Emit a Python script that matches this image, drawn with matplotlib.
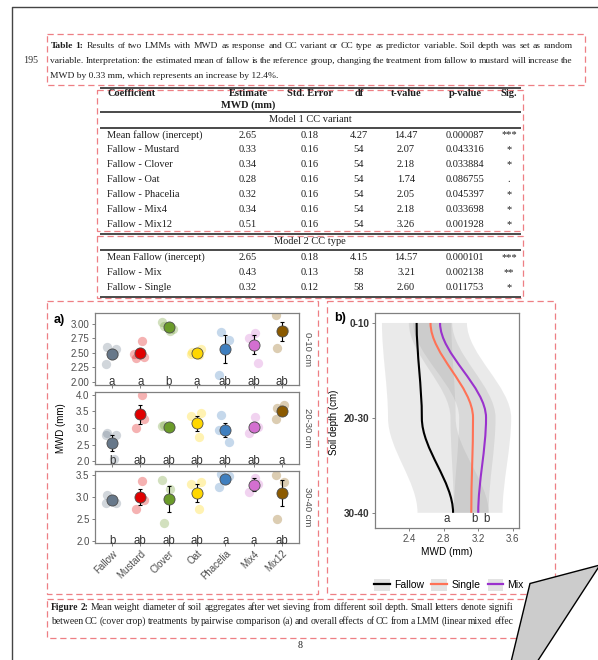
import numpy as np
import matplotlib
matplotlib.use('Agg')
import matplotlib.pyplot as plt
from matplotlib.patches import Rectangle, Polygon, PathPatch, Patch
from matplotlib.path import Path
from matplotlib.lines import Line2D
from matplotlib.legend_handler import HandlerTuple

W, H = 598, 660
SERIF = 'Liberation Serif'
SANS = 'Liberation Sans'
TXT = '#1e1e1e'
DASH_RED = '#ee7f84'

# ---------------- Table 1 ----------------
caption_t1 = [
    'Table 1: Results of two LMMs with MWD as response and CC variant or CC type as predictor variable. Soil depth was set as random',
    'variable. Interpretation: the estimated mean of fallow is the reference group, changing the treatment from fallow to mustard will increase the',
    'MWD by 0.33 mm, which represents an increase by 12.4%.',
]
header = ['Coefficient', 'Estimate', 'Std. Error', 'df', 't-value', 'p-value', 'Sig.']

m1_coef = ['Mean fallow (inercept)', 'Fallow - Mustard', 'Fallow - Clover', 'Fallow - Oat',
           'Fallow - Phacelia', 'Fallow - Mix4', 'Fallow - Mix12']
m1_est = ['2.65', '0.33', '0.34', '0.28', '0.32', '0.34', '0.51']
m1_se = ['0.18', '0.16', '0.16', '0.16', '0.16', '0.16', '0.16']
m1_df = ['4.27', '54', '54', '54', '54', '54', '54']
m1_t = ['14.47', '2.07', '2.18', '1.74', '2.05', '2.18', '3.26']
m1_p = ['0.000087', '0.043316', '0.033884', '0.086755', '0.045397', '0.033698', '0.001928']
m1_sig = ['***', '*', '*', '.', '*', '*', '*']

m2_coef = ['Mean Fallow (inercept)', 'Fallow - Mix', 'Fallow - Single']
m2_est = ['2.65', '0.43', '0.32']
m2_se = ['0.18', '0.13', '0.12']
m2_df = ['4.15', '58', '58']
m2_t = ['14.57', '3.21', '2.60']
m2_p = ['0.000101', '0.002138', '0.011753']
m2_sig = ['***', '**', '*']

# ---------------- Figure 2a: MWD per CC variant ----------------
treatments = ['Fallow', 'Mustard', 'Clover', 'Oat', 'Phacelia', 'Mix4', 'Mix12']
treat_colors = ['#67788a', '#e00000', '#6b9b2a', '#ffd700', '#3f7fbf', '#d36fd0', '#8b5a00']
depth_labels = ['0-10 cm', '20-30 cm', '30-40 cm']

mean_0_10 = [2.48, 2.50, 2.95, 2.50, 2.56, 2.64, 2.87]
se_0_10 = [0.08, 0.08, 0.04, 0.03, 0.24, 0.16, 0.17]
reps_0_10 = [[2.60, 2.56, 2.30, 2.47], [2.70, 2.41, 2.42, 2.47], [3.04, 2.87, 2.97, 2.92],
             [2.56, 2.48, 2.46, 2.52], [2.86, 2.72, 2.12], [2.85, 2.75, 2.33],
             [3.16, 2.90, 2.58]]
letters_0_10 = ['a', 'a', 'b', 'a', 'ab', 'ab', 'ab']

mean_20_30 = [2.54, 3.41, 3.04, 3.14, 2.94, 3.04, 3.52]
se_20_30 = [0.24, 0.30, 0.03, 0.23, 0.22, 0.15, 0.06]
reps_20_30 = [[2.86, 2.80, 2.78, 2.05], [4.00, 2.99, 3.26], [3.06, 3.02, 3.08],
              [3.44, 3.36, 2.74], [3.39, 2.59, 2.95], [3.34, 2.84, 3.02],
              [3.26, 3.70, 3.60]]
letters_20_30 = ['b', 'ab', 'ab', 'ab', 'ab', 'ab', 'a']

mean_30_40 = [2.92, 3.00, 2.95, 3.09, 3.40, 3.28, 3.09]
se_30_40 = [0.04, 0.18, 0.30, 0.20, 0.06, 0.14, 0.30]
reps_30_40 = [[3.05, 2.87, 2.86], [3.36, 2.72, 2.93], [3.38, 3.17, 2.40],
              [3.33, 3.30, 2.72], [3.52, 3.47, 3.22], [3.44, 3.12, 3.30],
              [3.51, 3.33, 2.49]]
letters_30_40 = ['b', 'ab', 'ab', 'ab', 'a', 'a', 'ab']

# ---------------- Figure 2b: MWD per CC type over depth ----------------
depth_b = ['0-10', '20-30', '30-40']
cc_types = ['Fallow', 'Single', 'Mix']
cc_colors = ['#000000', '#ff7256', '#9a32cd']
fallow_mwd = [2.49, 2.55, 2.91]
fallow_lo = [2.09, 2.16, 2.50]
fallow_hi = [2.89, 2.94, 3.32]
single_mwd = [2.65, 3.14, 3.12]
single_lo = [2.40, 2.88, 2.92]
single_hi = [2.90, 3.40, 3.32]
mix_mwd = [2.76, 3.29, 3.20]
mix_lo = [2.45, 2.98, 2.92]
mix_hi = [3.07, 3.58, 3.48]
type_letters = ['a', 'b', 'b']

caption_f2 = [
    'Figure 2: Mean weight diameter of soil aggregates after wet sieving from different soil depth. Small letters denote signifi',
    'between CC (cover crop) treatments by pairwise comparison (a) and overall effects of CC from a LMM (linear mixed effec',
]


fig = plt.figure(figsize=(W / 100, H / 100), dpi=100)
fig.patch.set_facecolor('white')

page = fig.add_axes([0, 0, 1, 1])
page.set_xlim(0, W)
page.set_ylim(H, 0)
page.axis('off')


def px_axes(l, t, r, b):
    return fig.add_axes([l / W, 1 - b / H, (r - l) / W, (b - t) / H])


def dashed_box(l, t, r, b):
    page.add_patch(Rectangle((l, t), r - l, b - t, fill=False, edgecolor=DASH_RED,
                             lw=0.9, linestyle=(0, (5, 3)), zorder=3))


def justify(line, x0, x1, y, size, n_bold=0):
    # spread the words of one caption line over the full width (y is the baseline)
    r = fig.canvas.get_renderer()
    words = line.split(' ')
    ts = []
    for k, w in enumerate(words):
        ts.append(page.text(x0, y, w, fontsize=size, family=SERIF, va='baseline', ha='left',
                            color=TXT, fontweight='bold' if k < n_bold else 'normal'))
    widths = [t.get_window_extent(r).width for t in ts]
    gap = (x1 - x0 - sum(widths)) / (len(ts) - 1)
    x = x0
    for t, w in zip(ts, widths):
        t.set_x(x)
        x += w + gap


def plain_line(line, x0, y, size):
    page.text(x0, y, line, fontsize=size, family=SERIF, va='baseline', ha='left', color=TXT)


# page outline
page.plot([11.5, 11.5, W + 5], [H + 5, 7, 7], color='#444444', lw=1.0, zorder=2)

# ---- Table 1 caption ----
page.text(23, 63, '195', fontsize=7.2, family=SERIF, va='baseline', ha='left', color='#333333')
dashed_box(46.5, 33.5, 585, 84.5)
justify(caption_t1[0], 50.5, 573, 48, 6.8, n_bold=2)
justify(caption_t1[1], 50.5, 573, 63, 6.8)
plain_line(caption_t1[2], 50.5, 78, 6.8)

# ---- Table 1 body ----
col_x = [107, 248, 310, 359, 406, 465, 509]
rule_kw = dict(color='#4a4a4a', lw=1.4, solid_capstyle='butt', zorder=4)
for yr in [87.5, 111.5, 127.5, 233.5, 250, 296.5]:
    page.plot([100, 521], [yr, yr], **rule_kw)
dashed_box(97, 90, 523, 231)
dashed_box(97, 236, 523, 297.5)

cell_kw = dict(fontsize=7.5, family=SERIF, va='center', color=TXT)
for k, h in enumerate(header):
    page.text(col_x[k], 94, h, ha='left' if k == 0 else 'center', fontweight='bold', **cell_kw)
page.text(col_x[1], 105.5, 'MWD (mm)', ha='center', fontweight='bold', **cell_kw)
page.text(310, 119.5, 'Model 1 CC variant', ha='center', **cell_kw)
page.text(310, 242, 'Model 2 CC type', ha='center', **cell_kw)


def table_rows(cols, y0):
    for i, row in enumerate(zip(*cols)):
        y = y0 + 14.9 * i
        for k, v in enumerate(row):
            page.text(col_x[k], y, v, ha='left' if k == 0 else 'center', **cell_kw)


table_rows([m1_coef, m1_est, m1_se, m1_df, m1_t, m1_p, m1_sig], 135)
table_rows([m2_coef, m2_est, m2_se, m2_df, m2_t, m2_p, m2_sig], 257.5)

# ---- Figure 2 a) ----
dashed_box(47, 301, 318, 594)
page.text(54, 320, 'a)', fontsize=9, fontweight='bold', family=SANS, va='center', ha='left')
page.text(61, 428, 'MWD (mm)', fontsize=7, family=SANS, rotation=90, va='center', ha='center')

facet_px = [(313, 385), (392, 464), (471, 543)]
facet_mean = [mean_0_10, mean_20_30, mean_30_40]
facet_se = [se_0_10, se_20_30, se_30_40]
facet_reps = [reps_0_10, reps_20_30, reps_30_40]
facet_letters = [letters_0_10, letters_20_30, letters_30_40]
facet_ylim = [(1.94, 3.19), (1.91, 4.09), (1.95, 3.59)]
facet_ticks = [[2.00, 2.25, 2.50, 2.75, 3.00], [2.0, 2.5, 3.0, 3.5, 4.0], [2.0, 2.5, 3.0, 3.5]]
facet_fmt = ['%.2f', '%.1f', '%.1f']
jitter = np.array([-0.16, 0.14, -0.22, 0.06])

for f in range(3):
    ax = px_axes(95, facet_px[f][0], 299, facet_px[f][1])
    for i in range(len(treatments)):
        x = i + 1
        reps = facet_reps[f][i]
        offs = np.roll(jitter, i)[:len(reps)]
        ax.scatter(x + offs, reps, s=45, color=treat_colors[i], alpha=0.3, lw=0, zorder=2)
        ax.errorbar(x, facet_mean[f][i], yerr=facet_se[f][i], color='black', lw=0.8,
                    capsize=1.3, capthick=0.8, zorder=3)
        ax.plot(x, facet_mean[f][i], 'o', ms=8, mfc=treat_colors[i], mec='#4d4d4d',
                mew=0.6, zorder=4)
        ax.text(x, 2.0, facet_letters[f][i], ha='center', va='center', fontsize=8.3,
                color='#333333', family=SANS, zorder=5)
    ax.set_xlim(0.4, 7.6)
    ax.set_ylim(*facet_ylim[f])
    ax.set_yticks(facet_ticks[f])
    ax.set_yticklabels([facet_fmt[f] % v for v in facet_ticks[f]], family=SANS)
    ax.set_xticks(range(1, len(treatments) + 1))
    if f < 2:
        ax.set_xticklabels([])
        ax.tick_params(axis='x', length=0)
    else:
        ax.set_xticklabels(treatments, rotation=45, ha='right', rotation_mode='anchor',
                           family=SANS)
    for s in ax.spines.values():
        s.set_color('#808080')
        s.set_linewidth(0.9)
    ax.tick_params(colors='#808080', labelcolor='#4d4d4d', labelsize=7, length=2.5,
                   width=0.7, pad=1.5)
    ax.text(1.04, 0.5, depth_labels[f], transform=ax.transAxes, rotation=-90, ha='center',
            va='center', fontsize=6.8, color='#4d4d4d', family=SANS)

# ---- Figure 2 b) ----
dashed_box(327, 301, 555, 594)
page.text(334, 318, 'b)', fontsize=9, fontweight='bold', family=SANS, va='center', ha='left')
page.text(334, 422, 'Soil depth (cm)', fontsize=7, family=SANS, rotation=90, va='center',
          ha='center')

axb = px_axes(375, 313, 519, 528)
depth_pos = np.arange(1, len(depth_b) + 1)


def curve_path(xs, ys):
    # cubic segments with vertical tangents at each depth
    verts = [(xs[0], ys[0])]
    codes = [Path.MOVETO]
    for i in range(len(xs) - 1):
        h = ys[i + 1] - ys[i]
        verts += [(xs[i], ys[i] + h / 3), (xs[i + 1], ys[i + 1] - h / 3), (xs[i + 1], ys[i + 1])]
        codes += [Path.CURVE4] * 3
    return verts, codes


series = [(fallow_mwd, fallow_lo, fallow_hi), (single_mwd, single_lo, single_hi),
          (mix_mwd, mix_lo, mix_hi)]
for mwd, lo, hi in series:
    v_lo, c_lo = curve_path(lo, depth_pos)
    v_hi, c_hi = curve_path(hi[::-1], depth_pos[::-1])
    verts = v_lo + v_hi + [v_lo[0]]
    codes = c_lo + [Path.LINETO] + c_hi[1:] + [Path.CLOSEPOLY]
    axb.add_patch(PathPatch(Path(verts, codes), facecolor='#999999', alpha=0.2,
                            edgecolor='none', zorder=1))
for (mwd, lo, hi), c in zip(series, cc_colors):
    v, cd = curve_path(mwd, depth_pos)
    axb.add_patch(PathPatch(Path(v, cd), facecolor='none', edgecolor=c, lw=1.5, zorder=3))

letter_x = [2.84, 3.16, 3.30]
for lx, lt in zip(letter_x, type_letters):
    axb.text(lx, 3.07, lt, ha='center', va='center', fontsize=8.3, color='#333333',
             family=SANS)

axb.set_xlim(2.01, 3.67)
axb.set_ylim(3.16, 0.895)
axb.set_xticks([2.4, 2.8, 3.2, 3.6])
axb.set_xticklabels(['2.4', '2.8', '3.2', '3.6'], family=SANS)
axb.set_yticks(depth_pos)
axb.set_yticklabels(depth_b, family=SANS, fontweight='bold')
for s in axb.spines.values():
    s.set_color('#808080')
    s.set_linewidth(0.9)
axb.tick_params(colors='#808080', labelcolor='#4d4d4d', labelsize=7, length=2.5,
                width=0.7, pad=1.5)
axb.tick_params(axis='y', labelcolor='#333333', labelsize=7.2)
page.text(447, 552, 'MWD (mm)', fontsize=7.2, family=SANS, va='center', ha='center')

handles = [(Patch(facecolor='#e3e3e3', edgecolor='none'), Line2D([], [], color=c, lw=1.6))
           for c in cc_colors]
fig.legend(handles, cc_types, handler_map={tuple: HandlerTuple(ndivide=1)}, ncol=3,
           loc='center', bbox_to_anchor=(449 / W, 1 - 585 / H), frameon=False,
           prop={'family': SANS, 'size': 7.5}, handlelength=1.5, handleheight=1.5,
           handletextpad=0.4, columnspacing=0.7, borderpad=0)

# ---- Figure 2 caption ----
dashed_box(47, 599, 552, 638)
justify(caption_f2[0], 51, 513, 609.5, 6.9, n_bold=2)
justify(caption_f2[1], 51, 513, 623.5, 6.9)
page.text(300, 646, '8', fontsize=7.2, family=SERIF, va='center', ha='center', color=TXT)

# folded corner on top of everything
top = fig.add_axes([0, 0, 1, 1], zorder=10)
top.set_xlim(0, W)
top.set_ylim(H, 0)
top.axis('off')
top.add_patch(Polygon([(530, 583.5), (600, 565), (537, 662), (511, 662)], closed=True,
                      facecolor='#cccccc', edgecolor='black', lw=1.0))

fig.savefig('out.png', dpi=100)
